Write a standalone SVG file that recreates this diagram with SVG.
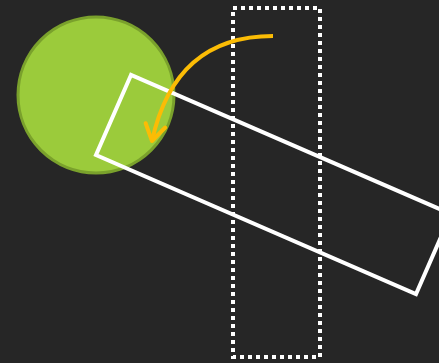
<svg xmlns="http://www.w3.org/2000/svg" width="439" height="363" viewBox="0 0 439 363">
<style>
.bg{fill:#262626}
.circ{fill:#9bcb3b;stroke:#7aa12c;stroke-width:3}
.rot{fill:none;stroke:#ffffff;stroke-width:4}
.dot{fill:none;stroke:#ffffff;stroke-width:4;stroke-dasharray:4 4}
.arr{fill:none;stroke:#fbbc05;stroke-width:4}
</style>
<defs>
<marker id="ah" viewBox="-20 -12 24 24" refX="0" refY="0" markerWidth="24" markerHeight="24" markerUnits="userSpaceOnUse" orient="auto" overflow="visible">
<path d="M-16,-10 L0,0 L-16,10" fill="none" stroke="#fbbc05" stroke-width="4" stroke-linecap="round" stroke-linejoin="round"/>
</marker>
</defs>
<rect class="bg" x="0" y="0" width="439" height="363"/>
<g id="circle"><circle class="circ" cx="96" cy="95" r="78"/></g>
<g id="dotted-rect"><rect class="dot" x="233" y="8" width="87" height="349"/></g>
<g id="rotated-rect"><polygon class="rot" points="131,75 96,155 416,294 451,214"/></g>
<g id="connectors"><path class="arr" d="M273,36 Q175,36 152,141" marker-end="url(#ah)"/></g>
</svg>
